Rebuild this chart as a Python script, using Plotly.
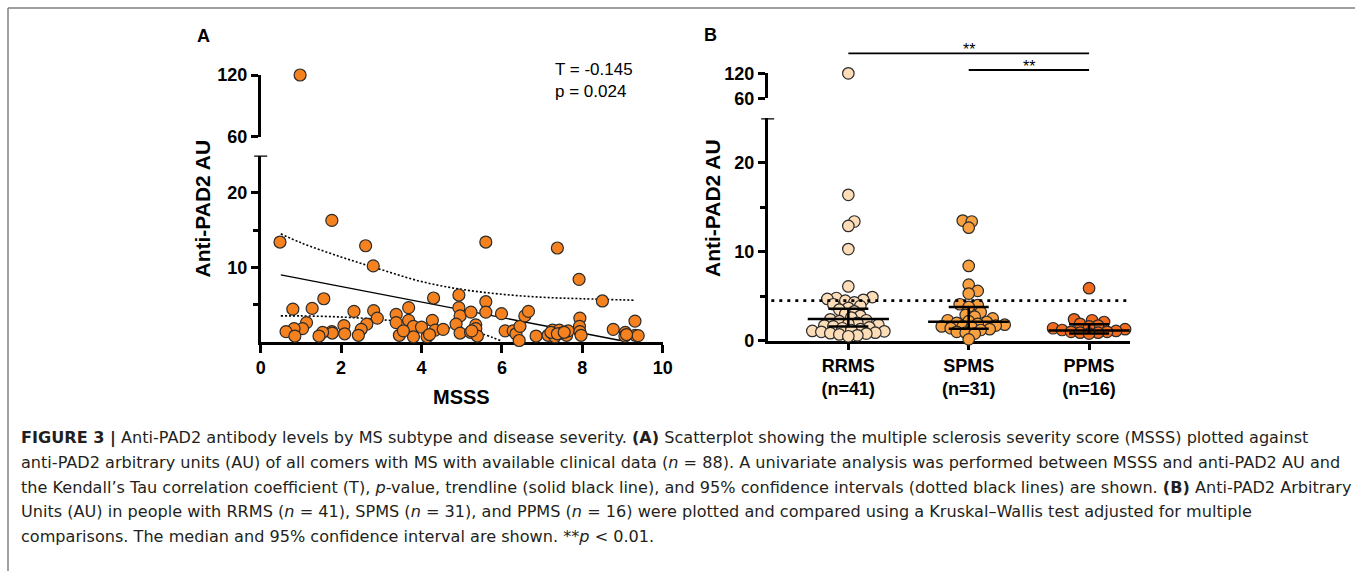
import plotly.graph_objects as go

W, H = 1355, 571

# ---------------- Data ----------------
# Panel A: MSSS vs anti-PAD2 AU (n = 88)
msss = [0.48, 1.77, 2.61, 2.80, 5.60, 7.38, 7.92, 8.50, 1.57, 0.80, 1.28, 2.32, 2.81, 2.90,
        2.64, 2.50, 2.43, 2.07, 2.09, 1.77, 1.78, 1.54, 1.45, 1.14, 1.04, 0.83, 0.63, 0.85,
        3.37, 3.37, 3.68, 3.68, 3.73, 3.80, 3.45, 3.80, 4.00, 4.14, 4.27, 4.30, 4.34, 4.54,
        4.93, 4.93, 4.96, 4.86, 4.96, 5.23, 5.22, 5.35, 5.35, 5.39, 5.60, 5.60, 5.99, 6.08,
        6.28, 6.35, 6.43, 6.45, 6.57, 6.66, 6.85, 7.15, 7.26, 7.32, 7.43, 7.49, 7.61, 7.65,
        7.94, 7.93, 7.94, 7.97, 8.77, 9.07, 9.06, 9.31, 9.32, 9.39, 0.98, 5.25, 7.22, 7.38,
        7.55, 4.20, 3.55, 9.10]
pad2_a = [13.4, 16.3, 12.9, 10.2, 13.4, 12.6, 8.4, 5.5, 5.8, 4.4, 4.5, 4.1, 4.2, 3.2,
          2.4, 1.7, 0.9, 2.2, 1.1, 1.4, 1.2, 1.3, 0.8, 2.6, 1.8, 1.8, 1.4, 0.8,
          3.7, 2.6, 4.6, 2.9, 1.6, 2.1, 0.9, 0.7, 2.0, 0.7, 2.9, 5.9, 1.6, 1.7,
          6.3, 4.6, 3.5, 2.4, 1.2, 4.0, 1.3, 2.3, 1.8, 0.8, 5.4, 4.0, 3.8, 1.5,
          1.5, 1.1, 0.2, 2.1, 3.5, 4.1, 0.8, 0.9, 1.6, 0.7, 1.6, 1.2, 0.9, 1.5,
          3.2, 2.1, 1.4, 0.9, 1.7, 1.3, 0.8, 2.8, 0.9, 0.85, 120.0, 1.5, 1.3, 1.1,
          1.3, 1.0, 1.5, 1.0]
trend_x = [0.5, 8.95]
trend_y = [9.0, 0.2]
ci_up_x = [0.5, 1, 2, 3, 4, 5, 6, 7, 8, 9.3]
ci_up_y = [14.5, 13.3, 11.4, 9.7, 8.1, 7.05, 6.4, 6.0, 5.8, 5.6]
ci_lo_x = [0.5, 1, 2, 3, 4, 5, 5.5, 6.0]
ci_lo_y = [3.5, 3.5, 3.35, 3.0, 2.4, 1.6, 1.1, 0.1]
kendall_text = ["T = -0.145", "p = 0.024"]

# Panel B: anti-PAD2 AU by subtype
groups = ["RRMS", "SPMS", "PPMS"]
group_n = [41, 31, 16]
rrms = [120.0, 16.4, 13.4, 12.9, 10.3, 6.1,
        4.9, 4.8, 4.7, 4.6, 4.5, 4.3, 4.1, 3.9, 3.7, 3.5, 3.3, 3.0, 2.8, 2.6, 2.4,
        2.3, 2.2, 2.0, 1.9, 1.8, 1.7, 1.6, 1.5, 1.4, 1.3, 1.2, 1.1, 1.05, 1.0, 0.9,
        0.85, 0.8, 0.7, 0.6, 0.5]
spms = [13.5, 13.4, 12.7, 8.4, 6.3, 5.6, 5.3, 4.1, 4.0, 3.8, 3.2, 2.9, 2.7, 2.5, 2.3,
        2.2, 2.1, 2.0, 1.9, 1.8, 1.7, 1.6, 1.6, 1.5, 1.4, 1.3, 1.2, 1.0, 0.9, 0.8, 0.15]
ppms = [5.9, 2.4, 2.3, 2.1, 1.9, 1.7, 1.6, 1.4, 1.3, 1.2, 1.1, 1.0, 1.0, 0.9, 0.9, 0.8]
group_values = [rrms, spms, ppms]
medians = [2.44, 2.13, 1.15]
ci_low = [1.6, 1.35, 0.8]
ci_high = [3.6, 3.8, 1.85]
cutoff = 4.5
comparisons = [(0, 2, "**"), (1, 2, "**")]

BREAK = 25  # top of the lower axis segment
UPPER = [60, 120]

# ---------------- Styles ----------------
FONT = "Liberation Sans, Arial, sans-serif"
CAP_FONT = "DejaVu Sans, Verdana, sans-serif"
A_COLOR = "#F5821F"
B_COLORS = ["#FCDDB8", "#F9A040", "#F26A1D"]
EDGE = "#2b2b2b"
AXW = 2.5


def pxx(x):
    return x / W


def pxy(y):
    return 1 - y / H


# panel geometry (pixels)
A_X = (260.7, 662.7)
A_LO = (342.0, 155.5)
A_UP = (136.7, 75.0)
B_X = (767.7, 1130.0)
B_LO = (340.7, 118.3)
B_UP = (98.3, 73.3)
B_RANGE = [-0.67, 2.34]

fig = go.Figure()

# ---------------- Panel A ----------------
fig.add_trace(go.Scatter(x=ci_up_x, y=ci_up_y, mode="lines", line=dict(color="black", width=1.6, dash="2px,2px", shape="spline"),
                         xaxis="x", yaxis="y", showlegend=False, hoverinfo="skip"))
fig.add_trace(go.Scatter(x=ci_lo_x, y=ci_lo_y, mode="lines", line=dict(color="black", width=1.6, dash="2px,2px", shape="spline"),
                         xaxis="x", yaxis="y", showlegend=False, hoverinfo="skip"))
fig.add_trace(go.Scatter(x=trend_x, y=trend_y, mode="lines", line=dict(color="black", width=1.4),
                         xaxis="x", yaxis="y", showlegend=False, hoverinfo="skip"))
lo_x = [x for x, y in zip(msss, pad2_a) if y <= BREAK]
lo_y = [y for y in pad2_a if y <= BREAK]
hi_x = [x for x, y in zip(msss, pad2_a) if y > BREAK]
hi_y = [y for y in pad2_a if y > BREAK]
mk_a = dict(color=A_COLOR, size=12, line=dict(color=EDGE, width=1.2))
fig.add_trace(go.Scatter(x=lo_x, y=lo_y, mode="markers", marker=mk_a, xaxis="x", yaxis="y",
                         cliponaxis=False, showlegend=False))
fig.add_trace(go.Scatter(x=hi_x, y=hi_y, mode="markers", marker=mk_a, xaxis="x", yaxis="y2",
                         cliponaxis=False, showlegend=False))


# ---------------- Panel B (beeswarm) ----------------
def beeswarm(values, ppu_y, ppu_x, step, mind):
    order = sorted(range(len(values)), key=lambda i: values[i])
    placed = []
    offs = [0.0] * len(values)
    for i in order:
        v = values[i]
        if v > BREAK:
            offs[i] = 0.0
            continue
        yp = v * ppu_y
        k = 0
        while True:
            cands = [0.0] if k == 0 else [k * step, -k * step]
            ok = None
            for c in cands:
                if all((c - ox) ** 2 + (yp - oy) ** 2 >= mind ** 2 for ox, oy in placed):
                    ok = c
                    break
            if ok is not None:
                placed.append((ok, yp))
                offs[i] = ok / ppu_x
                break
            k += 1
    return offs


ppu_y_b = (B_LO[0] - B_LO[1]) / BREAK
ppu_x_b = (B_X[1] - B_X[0]) / (B_RANGE[1] - B_RANGE[0])
for gi, vals in enumerate(group_values):
    offs = beeswarm(vals, ppu_y_b, ppu_x_b, 3.0, 6.6)
    xs_lo = [gi + o for o, v in zip(offs, vals) if v <= BREAK]
    ys_lo = [v for v in vals if v <= BREAK]
    xs_hi = [gi + o for o, v in zip(offs, vals) if v > BREAK]
    ys_hi = [v for v in vals if v > BREAK]
    mk = dict(color=B_COLORS[gi], size=11.5, line=dict(color=EDGE, width=1.2))
    fig.add_trace(go.Scatter(x=xs_lo, y=ys_lo, mode="markers", marker=mk, xaxis="x3", yaxis="y3",
                             cliponaxis=False, showlegend=False))
    if ys_hi:
        fig.add_trace(go.Scatter(x=xs_hi, y=ys_hi, mode="markers", marker=mk, xaxis="x3", yaxis="y4",
                                 cliponaxis=False, showlegend=False))

# median + 95% CI
fig.add_trace(go.Scatter(
    x=list(range(len(groups))), y=medians, mode="markers", xaxis="x3", yaxis="y3",
    marker=dict(symbol="line-ew-open", size=58, color="black", line=dict(color="black", width=2.5)),
    error_y=dict(type="data", symmetric=False,
                 array=[h - m for h, m in zip(ci_high, medians)],
                 arrayminus=[m - l for m, l in zip(medians, ci_low)],
                 color="black", thickness=2.5, width=20),
    cliponaxis=False, showlegend=False))

# ---------------- Axes ----------------
tick_font = dict(family=FONT, size=18, color="black", weight="bold")
common = dict(showgrid=False, zeroline=False, showline=True, linecolor="black", linewidth=AXW,
              ticks="outside", tickwidth=AXW, tickcolor="black", tickfont=tick_font,
              layer="below traces", fixedrange=True, automargin=False)
minor = dict(tickvals=[5, 15], ticklen=5, tickwidth=AXW, tickcolor="black", ticks="outside")

fig.update_layout(
    xaxis=dict(domain=[pxx(A_X[0]), pxx(A_X[1])], range=[0, 10], anchor="y",
               tickvals=[0, 2, 4, 6, 8, 10], ticklen=8, **common),
    yaxis=dict(domain=[pxy(A_LO[0]), pxy(A_LO[1])], range=[0, BREAK], anchor="x",
               tickvals=[10, 20], minor=minor, ticklen=7, **common),
    yaxis2=dict(domain=[pxy(A_UP[0]), pxy(A_UP[1])], range=UPPER, anchor="x", tickvals=UPPER, ticklen=7, **common),
    xaxis3=dict(domain=[pxx(B_X[0]), pxx(B_X[1])], range=B_RANGE, anchor="y3",
                tickvals=list(range(len(groups))),
                ticktext=[f"{g}<br>(n={n})" for g, n in zip(groups, group_n)],
                ticklen=7, **common),
    yaxis3=dict(domain=[pxy(B_LO[0]), pxy(B_LO[1])], range=[0, BREAK], anchor="x3",
                tickvals=[0, 10, 20], minor=minor, ticklen=7, **common),
    yaxis4=dict(domain=[pxy(B_UP[0]), pxy(B_UP[1])], range=UPPER, anchor="x3", tickvals=UPPER, ticklen=7, **common),
)

shapes = []
# break caps at the top of the lower segments
for yref, xref in (("y", "x domain"), ("y3", "x3 domain")):
    half = 6.5 / ((A_X[1] - A_X[0]) if xref == "x domain" else (B_X[1] - B_X[0]))
    shapes.append(dict(type="line", xref=xref, yref=yref, x0=-half, x1=half, y0=BREAK, y1=BREAK,
                       line=dict(color="black", width=AXW)))
# cutoff line
shapes.append(dict(type="line", xref="x3 domain", yref="y3", x0=0.01, x1=1, y0=cutoff, y1=cutoff,
                   line=dict(color="black", width=2.6, dash="3px,5px")))
# significance bars
sig_px = [53.3, 70.0]
annotations = []
for (a, b, lab), yy in zip(comparisons, sig_px):
    shapes.append(dict(type="line", xref="x3", yref="paper", x0=a, x1=b, y0=pxy(yy), y1=pxy(yy),
                       line=dict(color="black", width=1.8)))
    annotations.append(dict(xref="x3", yref="paper", x=(a + b) / 2, y=pxy(yy - 3.5), text=lab, showarrow=False,
                            xanchor="center", yanchor="middle", font=dict(family=FONT, size=16, color="black")))
# frame
shapes.append(dict(type="line", xref="paper", yref="paper", x0=pxx(8), x1=1, y0=pxy(8), y1=pxy(8),
                   line=dict(color="#808080", width=1.5)))
shapes.append(dict(type="line", xref="paper", yref="paper", x0=pxx(8), x1=pxx(8), y0=pxy(8), y1=0,
                   line=dict(color="#808080", width=1.5)))


def ann(x, y, text, size, bold=False, xanchor="center", angle=0, color="black", family=FONT):
    annotations.append(dict(xref="paper", yref="paper", x=pxx(x), y=pxy(y), text=text, showarrow=False,
                            xanchor=xanchor, yanchor="middle", textangle=angle,
                            font=dict(family=family, size=size, color=color, weight="bold" if bold else "normal")))


ann(203.5, 36, "A", 18, bold=True)
ann(710, 35.5, "B", 18, bold=True)
ann(202, 208.5, "Anti-PAD2 AU", 21, bold=True, angle=-90)
ann(712, 208, "Anti-PAD2 AU", 21, bold=True, angle=-90)
ann(461.5, 396.5, "MSSS", 20, bold=True)
ann(553, 69, kendall_text[0], 17, xanchor="left")
ann(553, 91, kendall_text[1], 17, xanchor="left")

caption = [
    "<b>FIGURE 3 |</b> Anti-PAD2 antibody levels by MS subtype and disease severity. <b>(A)</b> Scatterplot showing the multiple sclerosis severity score (MSSS) plotted against",
    "anti-PAD2 arbitrary units (AU) of all comers with MS with available clinical data (<i>n</i> = 88). A univariate analysis was performed between MSSS and anti-PAD2 AU and",
    "the Kendall’s Tau correlation coefficient (T), <i>p</i>-value, trendline (solid black line), and 95% confidence intervals (dotted black lines) are shown. <b>(B)</b> Anti-PAD2 Arbitrary",
    "Units (AU) in people with RRMS (<i>n</i> = 41), SPMS (<i>n</i> = 31), and PPMS (<i>n</i> = 16) were plotted and compared using a Kruskal–Wallis test adjusted for multiple",
    "comparisons. The median and 95% confidence interval are shown. **<i>p</i> &lt; 0.01.",
]
for i, line in enumerate(caption):
    ann(19, 438 + 24.5 * i, line, 16.1, xanchor="left", color="#231f20", family=CAP_FONT)

fig.update_layout(width=W, height=H, margin=dict(l=0, r=0, t=0, b=0, autoexpand=False), plot_bgcolor="white",
                  paper_bgcolor="white", shapes=shapes, annotations=annotations, showlegend=False)

post = ("document.body.style.margin='0';document.body.style.overflow='hidden';")
fig.write_html("out.html", config={"displayModeBar": False, "responsive": False}, post_script=post)
